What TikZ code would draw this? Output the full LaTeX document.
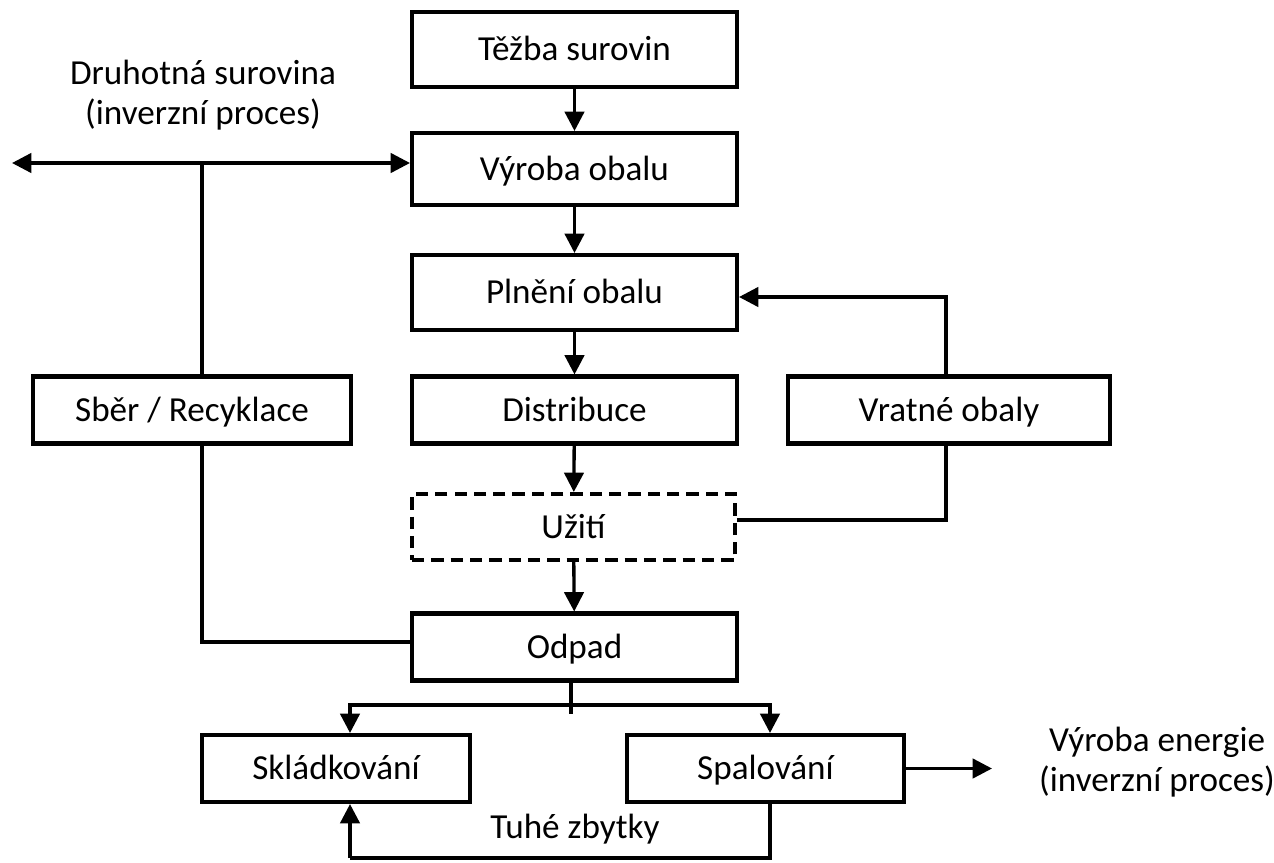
\documentclass[tikz,border=0pt]{standalone}
\usepackage{fontspec}
\setmainfont{Carlito}
\usetikzlibrary{positioning,arrows.meta}

\begin{document}
\begin{tikzpicture}[x=0.02cm,y=-0.02cm,>={Triangle[length=11pt,width=11pt]},line width=1.9pt,
  box/.style={draw,line width=2.3pt,inner sep=0pt,minimum width=6.5cm,minimum height=1.34cm,text height=15pt,text depth=2pt,font=\fontsize{20}{23}\selectfont},
  lbl/.style={font=\fontsize{20}{22.7}\selectfont,align=center}]
\useasboundingbox (0,0) rectangle (1274,862);
\node[box,minimum height=1.5cm] (tezba) at (574.5,49.5) {Těžba surovin};
\node[box,minimum height=1.44cm] (vyroba) at (574.5,169) {Výroba obalu};
\node[box,minimum height=1.5cm] (plneni) at (574.5,292.5) {Plnění obalu};
\node[box] (distr) at (574.5,410) {Distribuce};
\node[box,dashed,dash pattern=on 7pt off 4pt,minimum width=6.46cm,minimum height=1.32cm] (uziti) at (573.5,527) {Užití};
\node[box] (odpad) at (574.5,647) {Odpad};
\node[box,minimum width=6.36cm] (sber) at (192,410) {Sběr / Recyklace};
\node[box,minimum width=6.44cm] (vratne) at (949,410) {Vratné obaly};
\node[box,minimum width=5.36cm] (skladka) at (336,768.5) {Skládkování};
\node[box,minimum width=5.54cm] (spal) at (765.5,768.5) {Spalování};
\node[lbl] (druh) at (203,95) {Druhotná surovina\\(inverzní proces)};
\node[lbl] (energ) at (1157,762) {Výroba energie\\(inverzní proces)};
\node[lbl] (tuhe) at (575,829) {Tuhé zbytky};
% main line
\draw[->] (tezba) -- (vyroba);
\draw[->] (vyroba) -- (plneni);
\draw[->] (plneni) -- (distr);
\draw[->] (distr) -- (uziti);
\draw[->] (uziti) -- (odpad);
% recycling
\coordinate (left) at (12,163);
\coordinate (branch) at (202,163);
\coordinate (jn) at (202,642);
\draw[<->] (left) -- (left -| vyroba.west);
\draw (branch) -- (branch |- sber.north);
\draw (branch |- sber.south) -- (jn) -- (jn -| odpad.west);
% returnable packaging
\coordinate (vr) at (946,520);
\coordinate (vt) at (946,297);
\draw (uziti.east |- vr) -- (vr) -- (vr |- vratne.south);
\draw[->] (vr |- vratne.north) -- (vt) -- (vt -| plneni.east);
% waste
\coordinate (split) at (571,705);
\coordinate (stub) at (571,714);
\coordinate (sl) at (350,705);
\coordinate (sp) at (770,705);
\draw (odpad.south -| stub) -- (stub);
\draw[->] (split) -- (sl) -- (sl |- skladka.north);
\draw[->] (split) -- (sp) -- (sp |- spal.north);
\coordinate (en) at (992,768.5);
\draw[->] (spal.east) -- (en);
\coordinate (bl) at (350,858);
\coordinate (br) at (770,858);
\draw (br |- spal.south) -- (br) -- (bl);
\draw[->] (bl) -- (bl |- skladka.south);
\end{tikzpicture}
\end{document}
